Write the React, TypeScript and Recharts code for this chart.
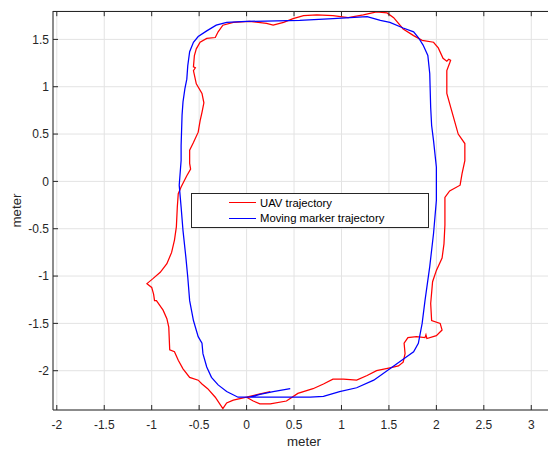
import { ScatterChart, Scatter, XAxis, YAxis, CartesianGrid, Legend } from 'recharts'

const font = '"Liberation Sans", Arial, Helvetica, sans-serif'
const ink = '#262626'

// UAV trajectory (meters) in drawing order
const uavPath: number[][] = [
  [0.0, -2.28], [0.07, -2.32], [0.14, -2.35], [0.25, -2.35], [0.42, -2.32], [0.54, -2.24], [0.7, -2.19],
  [0.81, -2.14], [0.91, -2.09], [1.02, -2.09], [1.16, -2.1], [1.27, -2.05], [1.37, -2.0], [1.51, -1.97],
  [1.6, -1.95], [1.65, -1.91], [1.67, -1.82], [1.66, -1.71], [1.7, -1.65], [1.79, -1.64], [1.88, -1.65],
  [1.89, -1.62], [1.9, -1.66], [2.0, -1.63], [2.06, -1.57], [2.04, -1.5], [1.95, -1.47], [1.94, -1.29],
  [1.96, -1.06], [2.0, -0.94], [2.06, -0.81], [2.08, -0.66], [2.09, -0.46], [2.09, -0.31], [2.09, -0.17],
  [2.14, -0.1], [2.25, -0.04], [2.27, 0.08], [2.3, 0.22], [2.3, 0.4], [2.23, 0.5], [2.16, 0.75],
  [2.11, 0.93], [2.11, 1.17], [2.14, 1.25], [2.15, 1.28], [2.13, 1.29], [2.11, 1.27], [2.07, 1.3],
  [2.02, 1.41], [1.97, 1.47], [1.85, 1.49], [1.76, 1.54], [1.65, 1.61], [1.55, 1.73], [1.48, 1.78],
  [1.37, 1.79], [1.23, 1.76], [1.07, 1.73], [0.91, 1.75], [0.74, 1.76], [0.6, 1.75], [0.49, 1.72],
  [0.39, 1.68], [0.28, 1.65], [0.21, 1.67], [0.03, 1.69], [-0.14, 1.68], [-0.25, 1.65], [-0.3, 1.58],
  [-0.33, 1.52], [-0.42, 1.51], [-0.49, 1.47], [-0.53, 1.4], [-0.55, 1.33], [-0.56, 1.21], [-0.54, 1.2],
  [-0.56, 1.17], [-0.53, 1.03], [-0.47, 0.93], [-0.45, 0.83], [-0.47, 0.73], [-0.49, 0.64], [-0.51, 0.52],
  [-0.56, 0.41], [-0.6, 0.33], [-0.6, 0.19], [-0.59, 0.13], [-0.63, 0.06], [-0.69, -0.06], [-0.72, -0.13],
  [-0.73, -0.27], [-0.74, -0.48], [-0.76, -0.62], [-0.79, -0.75], [-0.84, -0.87], [-0.91, -0.96],
  [-0.99, -1.03], [-1.05, -1.08], [-1.0, -1.12], [-0.98, -1.19], [-0.97, -1.26], [-0.95, -1.26],
  [-0.88, -1.36], [-0.84, -1.45], [-0.82, -1.54], [-0.81, -1.78], [-0.76, -1.8], [-0.72, -1.89],
  [-0.67, -1.98], [-0.6, -2.07], [-0.51, -2.1], [-0.47, -2.14], [-0.41, -2.19], [-0.33, -2.28],
  [-0.25, -2.4], [-0.21, -2.34], [-0.14, -2.31], [0.0, -2.28], [0.12, -2.25], [0.25, -2.22],
]

// moving marker trajectory (meters)
const markerPath: number[][] = [
  [0.03, -2.28], [0.25, -2.28], [0.46, -2.28], [0.67, -2.28], [0.81, -2.27], [0.98, -2.22], [1.16, -2.18],
  [1.34, -2.1], [1.51, -1.98], [1.65, -1.88], [1.76, -1.8], [1.81, -1.71], [1.85, -1.5], [1.88, -1.26],
  [1.93, -0.9], [1.97, -0.55], [2.0, -0.2], [2.0, 0.15], [1.97, 0.43], [1.95, 0.59], [1.94, 0.78],
  [1.93, 1.14], [1.91, 1.33], [1.86, 1.44], [1.81, 1.52], [1.76, 1.58], [1.65, 1.62], [1.51, 1.68],
  [1.41, 1.7], [1.27, 1.74], [0.91, 1.72], [0.56, 1.7], [0.0, 1.69], [-0.21, 1.68], [-0.32, 1.65],
  [-0.42, 1.59], [-0.51, 1.53], [-0.56, 1.47], [-0.6, 1.37], [-0.62, 1.22], [-0.63, 1.08], [-0.65, 0.98],
  [-0.67, 0.84], [-0.68, 0.7], [-0.69, 0.38], [-0.69, 0.22], [-0.71, -0.04], [-0.69, -0.27], [-0.67, -0.52],
  [-0.64, -0.8], [-0.62, -1.01], [-0.6, -1.26], [-0.56, -1.47], [-0.51, -1.64], [-0.47, -1.71],
  [-0.46, -1.82], [-0.42, -1.96], [-0.37, -2.07], [-0.3, -2.15], [-0.21, -2.22], [-0.09, -2.28],
  [0.03, -2.28], [0.14, -2.25], [0.28, -2.22], [0.46, -2.19],
]

const xTicks = [-2, -1.5, -1, -0.5, 0, 0.5, 1, 1.5, 2, 2.5, 3]
const yTicks = [-2, -1.5, -1, -0.5, 0, 0.5, 1, 1.5]
const xDomain = [-2.04, 3.25]
const yDomain = [-2.415, 1.8]

const series = [
  { name: 'UAV trajectory', color: '#ff0000', points: uavPath },
  { name: 'Moving marker trajectory', color: '#0000ff', points: markerPath },
]

const toXY = (pts: number[][]) => pts.map(([x, y]) => ({ x, y }))

// inward ticks on the top and right sides of the box
const eps = 0.002
const topTickPts = xTicks.map((x) => ({ x, y: yDomain[1] - eps }))
const rightTickPts = yTicks.map((y) => ({ x: xDomain[1] - eps, y }))
const TopTick = ({ cx, cy }: any) => <line x1={cx} y1={cy} x2={cx} y2={cy + 5} stroke={ink} />
const RightTick = ({ cx, cy }: any) => <line x1={cx} y1={cy} x2={cx - 5} y2={cy} stroke={ink} />

const W = 548
const H = 444
const margin = { top: 3, right: 1, bottom: 0, left: 0 }
const yAxisW = 45
const xAxisH = 42

const tickStyle = { fontSize: 12, fill: ink, fontFamily: font }

function LegendBox() {
  return (
    <div
      style={{
        width: 238, height: 35, boxSizing: 'border-box', border: `1px solid ${ink}`, background: '#fff',
        paddingTop: 1, fontFamily: font, fontSize: 11.3, color: '#000',
      }}
    >
      {series.map((s) => (
        <div key={s.name} style={{ display: 'flex', alignItems: 'center', height: 15.6 }}>
          <span style={{ display: 'inline-block', width: 27, marginLeft: 37, borderTop: `1.3px solid ${s.color}` }} />
          <span style={{ marginLeft: 4, whiteSpace: 'nowrap' }}>{s.name}</span>
        </div>
      ))}
    </div>
  )
}

const XLabel = ({ viewBox }: any) => (
  <text x={viewBox.x + viewBox.width / 2} y={viewBox.y + 36} textAnchor="middle" fontSize={13.3} fontFamily={font} fill={ink}>
    meter
  </text>
)

const YLabel = ({ viewBox }: any) => {
  const x = viewBox.x + 12.7
  const y = viewBox.y + viewBox.height / 2
  return (
    <text x={x} y={y} transform={`rotate(-90, ${x}, ${y})`} textAnchor="middle" fontSize={13.3} fontFamily={font} fill={ink}>
      meter
    </text>
  )
}

export default function App() {
  return (
    <div style={{ position: 'relative', width: W, height: H }}>
      <ScatterChart width={W} height={H} margin={margin}>
        <CartesianGrid stroke="#e3e3e3" />
        <XAxis
          type="number" dataKey="x" domain={xDomain} ticks={xTicks} interval={0}
          height={xAxisH} tickSize={-5} tickMargin={15} tick={tickStyle}
          axisLine={{ stroke: ink }} tickLine={{ stroke: ink }}
          label={{ value: 'meter', content: XLabel }}
        />
        <YAxis
          type="number" dataKey="y" domain={yDomain} ticks={yTicks} interval={0}
          width={yAxisW} tickSize={-5} tickMargin={9} tick={tickStyle}
          axisLine={{ stroke: ink }} tickLine={{ stroke: ink }}
          label={{ value: 'meter', content: YLabel }}
        />
        <Legend
          layout="vertical" align="center" verticalAlign="middle"
          wrapperStyle={{ left: 183, top: 185, width: 238, height: 35 }}
          content={() => <LegendBox />}
        />
        {series.map((s) => (
          <Scatter
            key={s.name} name={s.name} data={toXY(s.points)} fill={s.color}
            line={{ stroke: s.color, strokeWidth: 1.25 }} lineType="joint"
            shape={() => <g />} isAnimationActive={false}
          />
        ))}
        <Scatter data={topTickPts} legendType="none" shape={TopTick} isAnimationActive={false} />
        <Scatter data={rightTickPts} legendType="none" shape={RightTick} isAnimationActive={false} />
      </ScatterChart>
      {/* top and right sides of the plot box */}
      <div
        style={{
          position: 'absolute', pointerEvents: 'none', boxSizing: 'border-box',
          left: margin.left + yAxisW, top: margin.top,
          width: W - margin.left - margin.right - yAxisW, height: H - margin.top - margin.bottom - xAxisH,
          borderTop: `1px solid ${ink}`, borderRight: `1px solid ${ink}`,
        }}
      />
    </div>
  )
}
